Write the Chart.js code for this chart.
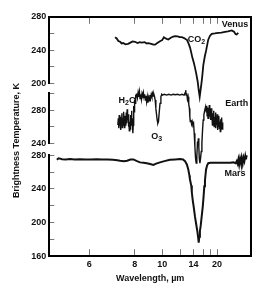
<!DOCTYPE html>
<html>
<head>
<meta charset="utf-8">
<script src="https://cdn.jsdelivr.net/npm/chart.js@4.4.1/dist/chart.umd.min.js"></script>
<style>
  html, body { margin: 0; padding: 0; background: #fff; }
  canvas { display: block; }
</style>
</head>
<body>
<canvas id="spectra-chart" width="266" height="291"></canvas>
<script>
// x values are wavenumbers in cm^-1 (the axis is linear in 1/wavelength), y values in K
var venusWavenumber = [1430, 1415, 1400, 1384, 1370, 1357, 1335, 1311, 1290, 1270, 1248, 1225, 1205, 1187, 1160,
  1140, 1126, 1100, 1080, 1065, 1045, 1020, 1000, 985, 974, 960, 944, 925, 905, 883, 860, 840, 822, 800, 785,
  776, 760, 746, 735, 725, 712, 701, 690, 676, 667, 658, 650, 640, 632, 625, 612, 600, 590, 580, 565,
  548, 520, 488, 460, 427, 400, 366, 345, 330, 321, 312, 306];
var venusTemp = [255.5, 254, 251, 250, 248, 248.5, 247, 247.5, 249, 250.5, 250, 248.5, 249.5, 249, 249.5,
  248, 248.3, 247.5, 246.5, 246.5, 248.5, 250.7, 252, 255.5, 254.5, 253.5, 252.7, 254.5, 256, 256.7, 256.5, 255.5, 255.5, 254.5, 253,
  252.7, 248, 243, 237, 231, 225, 219, 212, 202, 192, 184, 192, 202, 212, 222, 232, 239, 246, 252.5, 257,
  259.5, 260, 260.7, 261, 262, 262.5, 263.6, 262, 259, 258.8, 260, 260.7];

var earthWavenumber = [
  1405, 1400, 1396, 1392, 1388, 1384, 1380, 1376, 1372, 1368, 1364, 1360, 1356, 1352, 1348, 1344, 1340, 1336, 1332, 1328, 1324,
  1320, 1316, 1312, 1308, 1304, 1300, 1296, 1292, 1288, 1284, 1280, 1276, 1272, 1268, 1264, 1260, 1256, 1252, 1248, 1244, 1240, 1236,
  1232, 1226, 1220, 1214, 1208, 1202, 1196, 1190, 1184, 1178, 1172, 1166, 1160, 1154, 1148,
  1142, 1136, 1130, 1124, 1118, 1112, 1106, 1100, 1094, 1088, 1082, 1076, 1070, 1064, 1058,
  1052, 1046, 1040, 1034, 1028, 1020, 1012, 1004,
  998, 980, 960, 940, 920, 900, 880, 860, 840, 820, 800, 790, 786, 782, 776, 770, 764, 758,
  752, 748, 744, 738, 732, 726, 720, 714, 708, 702, 696, 690, 684, 678, 674, 670, 666, 662, 656, 650, 644, 638, 632, 626, 620, 612, 604,
  598, 594, 590, 586, 582, 578, 574, 570, 566, 562, 558, 554, 550, 546, 542, 538, 534, 530, 526, 522,
  518, 514, 510, 506, 502, 498, 494, 490, 486, 482, 478, 474, 470, 466, 462, 458, 454, 450, 446];
var earthTemp = [
  262, 270, 258, 274, 261, 268, 256, 272, 263, 276, 259, 270, 262, 278, 266, 273, 258, 269, 261, 277, 264,
  281, 268, 275, 260, 271, 255, 266, 257, 274, 262, 279, 265, 270, 252, 262, 285, 278, 292, 288, 298, 294, 299,
  300, 295, 301, 296, 302, 294, 299, 293, 300, 297, 301, 295, 299, 292, 297,
  290, 296, 289, 295, 291, 298, 294, 299, 296, 300, 297, 299, 296, 292, 282,
  275, 268, 264, 266, 276, 288, 296, 299,
  298, 299, 298, 299, 298, 299, 298.5, 299, 298, 299, 298, 301, 304, 298, 300, 293, 296, 287,
  282, 272, 266, 268, 263, 266, 262, 264, 252, 236, 222, 216, 224, 242, 238, 246, 236, 222, 216, 222, 230, 240, 256, 268, 274, 280, 284,
  278, 285, 273, 283, 270, 281, 275, 286, 272, 279, 268, 282, 271, 277, 262, 276, 265, 279, 260, 272,
  264, 277, 258, 270, 262, 275, 256, 268, 260, 273, 258, 266, 254, 269, 259, 271, 257, 265, 260];

var marsWavenumber = [1961, 1945, 1930, 1915, 1880, 1840, 1800, 1750, 1700, 1650, 1600, 1550, 1500, 1450, 1410,
  1384, 1350, 1320, 1290, 1263, 1230, 1202, 1170, 1141, 1110, 1081, 1055, 1020, 980, 929,
  880, 837, 810, 792, 775, 762, 752, 748, 740, 735, 730, 722, 712, 701, 690,
  680, 672, 667, 662, 656, 649, 640, 630, 622, 616, 610, 604, 600, 590, 580,
  560, 520, 473, 420, 380, 351, 330, 320, 312, 305, 298, 290, 282, 275, 266, 258, 250, 242, 236, 229];
var marsTemp = [274.5, 276.3, 276, 275.2, 275, 275.5, 275, 275.2, 275, 275, 275.3, 275, 274.8, 274.5, 274,
  273.5, 273, 273.5, 275, 275, 273, 271.5, 271, 270.5, 269.5, 268.5, 270, 271.5, 273, 274.5,
  275, 275.5, 275, 273, 269, 263, 256, 252, 247, 244, 236, 227, 218, 207, 198,
  190, 182, 176, 183, 190, 196, 207, 219, 232, 243, 250, 258, 263, 268, 270.5,
  271, 271, 271, 271, 271, 271.5, 270.5, 273, 270, 275, 269, 276, 271, 277, 270, 277, 273, 279, 275, 280];

// tick marks (µm) and the ones that carry a label
var xTickWavelengths = [6, 8, 10, 12, 14, 16, 18, 20];
var xLabelWavelengths = [6, 8, 10, 14, 20];
var venusTicks = [200, 220, 240, 260, 280];
var venusTickLabels = [200, 240, 280];
var earthTicks = [240, 260, 280, 300];
var earthTickLabels = [240, 280];
var marsTicks = [160, 180, 200, 220, 240, 260, 280];
var marsTickLabels = [160, 200, 240, 280];

var annotations = [
  { text: 'Venus', x: 336, y: 271, axis: 'yVenus' },
  { text: 'CO_2', x: 687, y: 253, axis: 'yVenus' },
  { text: 'H_2O', x: 1319, y: 291.5, axis: 'yEarth' },
  { text: 'O_3', x: 1050, y: 248, axis: 'yEarth' },
  { text: 'Earth', x: 321, y: 288, axis: 'yEarth' },
  { text: 'Mars', x: 336, y: 258.5, axis: 'yMars' }
];

var FONT = "'Liberation Sans', Arial, sans-serif";
Chart.defaults.font.family = FONT;
Chart.defaults.font.size = 9;
Chart.defaults.font.weight = 'bold';
Chart.defaults.color = '#111';

function toPoints(xs, ys) {
  return xs.map(function (x, i) { return { x: x, y: ys[i] }; });
}

function setWavelengthTicks(scale) {
  scale.ticks = xTickWavelengths.map(function (w) { return { value: 10000 / w }; });
}

function wavelengthAxis(position, showLabels) {
  return {
    type: 'linear',
    position: position,
    reverse: true,
    min: 190,
    max: 2030,
    afterBuildTicks: setWavelengthTicks,
    ticks: {
      autoSkip: false,
      maxRotation: 0,
      padding: showLabels ? 9.6 : 0,
      callback: function (value) {
        var w = Math.round(10000 / value);
        return showLabels && xLabelWavelengths.indexOf(w) >= 0 ? String(w) : '';
      }
    },
    grid: { drawOnChartArea: false, tickLength: -7, color: '#777' },
    border: { color: '#000', width: 2 }
  };
}

function tempAxis(ticks, labels, weight, stackWeight) {
  return {
    type: 'linear',
    position: 'left',
    stack: 'temp',
    stackWeight: stackWeight,
    weight: weight,
    min: ticks[0],
    max: ticks[ticks.length - 1],
    afterBuildTicks: function (scale) {
      scale.ticks = ticks.map(function (v) { return { value: v }; });
    },
    ticks: {
      autoSkip: false,
      padding: 8,
      callback: function (value) { return labels.indexOf(value) >= 0 ? String(value) : ''; }
    },
    grid: { drawOnChartArea: false, tickLength: -5, color: '#777' },
    border: { color: '#000', width: 2 }
  };
}

function spacerAxis(stack, weight, stackWeight) {
  return { type: 'linear', position: 'left', stack: stack, stackWeight: stackWeight, weight: weight, display: false };
}

function drawRichText(ctx, text, cx, cy) {
  var parts = text.split(/_(\d)/);
  var main = 'bold 9px ' + FONT, sub = 'bold 7px ' + FONT;
  var total = 0;
  parts.forEach(function (p, i) {
    ctx.font = i % 2 ? sub : main;
    total += ctx.measureText(p).width;
  });
  var x = cx - total / 2;
  parts.forEach(function (p, i) {
    ctx.font = i % 2 ? sub : main;
    ctx.fillText(p, x, i % 2 ? cy + 3 : cy);
    x += ctx.measureText(p).width;
  });
}

var labelPlugin = {
  id: 'planetLabels',
  afterDatasetsDraw: function (chart) {
    var ctx = chart.ctx;
    ctx.save();
    ctx.fillStyle = '#111';
    ctx.textAlign = 'left';
    ctx.textBaseline = 'middle';
    annotations.forEach(function (a) {
      var px = chart.scales.x.getPixelForValue(a.x);
      var py = chart.scales[a.axis].getPixelForValue(a.y);
      drawRichText(ctx, a.text, px, py);
    });
    ctx.restore();
  }
};

// curves may run past their own panel (the CO2 dips), so no clipping to the panel
var lineStyle = { borderColor: '#111', pointRadius: 0, tension: 0, fill: false, clip: false };

var xBottom = wavelengthAxis('bottom', true);
// the scale reserves the tick padding twice, the negative top padding takes one back
xBottom.title = {
  display: true,
  text: 'Wavelength, µm',
  color: '#111',
  font: { size: 9, weight: 'bold' },
  padding: { top: -5.6, bottom: 6.6 }
};

var ctx = document.getElementById('spectra-chart').getContext('2d');
var chart = new Chart(ctx, {
  type: 'line',
  data: {
    datasets: [
      Object.assign({ label: 'Venus', data: toPoints(venusWavenumber, venusTemp), yAxisID: 'yVenus', borderWidth: 1.8 }, lineStyle),
      Object.assign({ label: 'Earth', data: toPoints(earthWavenumber, earthTemp), yAxisID: 'yEarth', borderWidth: 1.4 }, lineStyle),
      Object.assign({ label: 'Mars', data: toPoints(marsWavenumber, marsTemp), yAxisID: 'yMars', borderWidth: 2 }, lineStyle)
    ]
  },
  options: {
    responsive: false,
    animation: false,
    devicePixelRatio: 1,
    layout: { padding: { left: 6, right: 15, top: 13, bottom: 0 } },
    plugins: { legend: { display: false }, tooltip: { enabled: false } },
    scales: {
      x: xBottom,
      xTop: wavelengthAxis('top', false),
      // small empty box above the title axis so the title sits a bit lower
      yTitleSpacer: spacerAxis('title', 101, 8),
      yTitle: {
        type: 'linear',
        position: 'left',
        stack: 'title',
        stackWeight: 230,
        weight: 100,
        ticks: { display: false },
        grid: { display: false, drawTicks: false },
        border: { display: false },
        title: {
          display: true,
          text: 'Brightness Temperature, K',
          color: '#111',
          font: { size: 9, weight: 'bold' },
          padding: { top: 5, bottom: 3 }
        }
      },
      yVenus: tempAxis(venusTicks, venusTickLabels, 50, 66.3),
      yGap1: spacerAxis('temp', 40, 10),
      yEarth: tempAxis(earthTicks, earthTickLabels, 30, 49.5),
      yGap2: spacerAxis('temp', 20, 12),
      yMars: tempAxis(marsTicks, marsTickLabels, 10, 100.5),
      yRight: {
        type: 'linear',
        position: 'right',
        ticks: { display: false },
        grid: { display: false, drawTicks: false },
        border: { display: true, color: '#000', width: 2 }
      }
    }
  },
  plugins: [labelPlugin]
});
</script>
</body>
</html>
